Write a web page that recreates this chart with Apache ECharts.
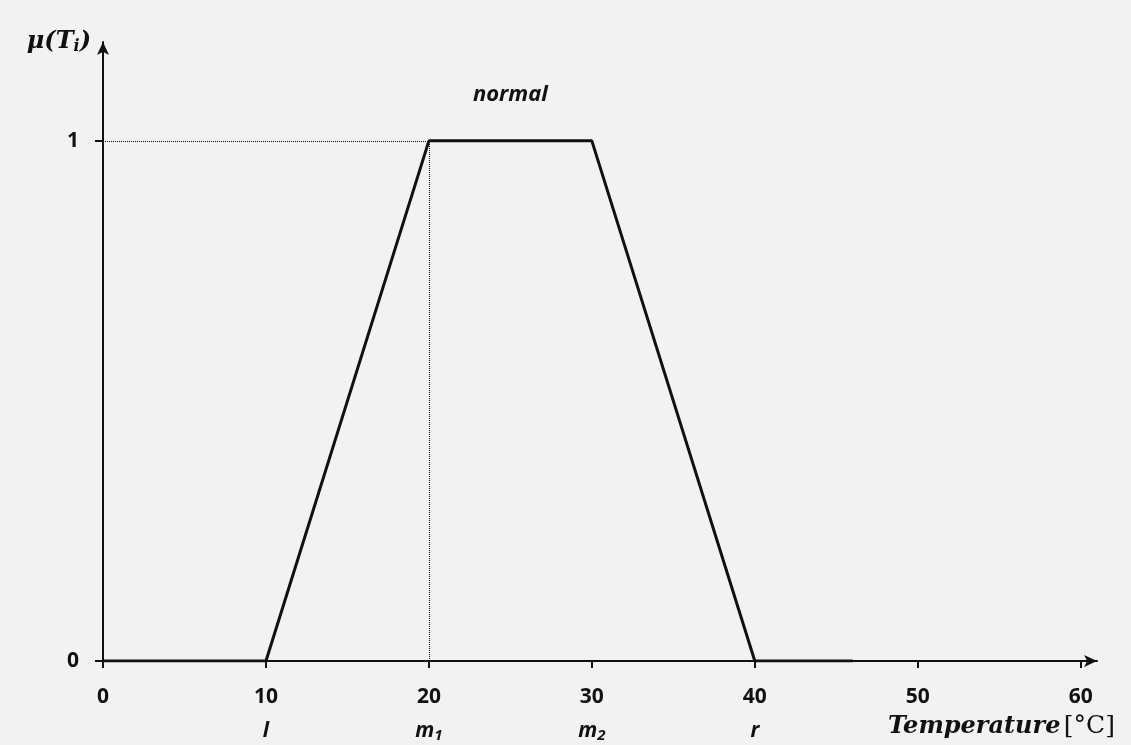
<!DOCTYPE html>
<html>
<head>
<meta charset="utf-8">
<script src="https://cdn.jsdelivr.net/npm/echarts@6/dist/echarts.min.js"></script>
<style>
html,body{margin:0;padding:0;background:#f2f2f2;}
#chart{width:1131px;height:745px;}
</style>
</head>
<body>
<div id="chart"></div>
<script>
// ---- data ----
var temperature = [0, 10, 20, 30, 40, 46];
var membership  = [0, 0, 1, 1, 0, 0];
var xTicks = [0, 10, 20, 30, 40, 50, 60];
var paramNames = ['', 'l', 'm1', 'm2', 'r', '', ''];
var yTicks = [0, 1];
var setName = 'normal';
var setLabelPos = [25, 1.088];
var peakStart = [20, 1];
var xAxisTitle = 'Temperature';
var xAxisUnit = '[°C]';

var chart = echarts.init(document.getElementById('chart'), null, {renderer: 'canvas'});
var dark = '#111111';
var labelFont = '"Open Sans", Lato, sans-serif';
var mathFont = '"DejaVu Serif", "Liberation Serif", serif';

function paramRich(name) {
  if (!name) return '';
  if (name.length > 1) return '{p|' + name.charAt(0) + '}{s|' + name.slice(1) + '}';
  return '{p|' + name + '}';
}

var series = [{
  type: 'line',
  data: temperature.map(function (t, i) { return [t, membership[i]]; }),
  symbol: 'none',
  lineStyle: {color: dark, width: 3},
  z: 5,
  markLine: {
    silent: true,
    symbol: 'none',
    label: {show: false},
    lineStyle: {type: 'dotted', color: dark, width: 1},
    data: [
      [{coord: [0, peakStart[1]]}, {coord: peakStart}],
      [{coord: [peakStart[0], 0]}, {coord: peakStart}]
    ]
  },
  markPoint: {
    silent: true,
    symbol: 'circle',
    symbolSize: 0,
    label: {
      show: true,
      formatter: setName,
      position: 'inside',
      fontFamily: labelFont,
      fontWeight: 'bold',
      fontStyle: 'italic',
      fontSize: 22,
      color: dark
    },
    data: [{coord: setLabelPos}]
  }
}];

var option = {
  backgroundColor: '#f2f2f2',
  animation: false,
  grid: {left: 103, right: 34, top: 42, bottom: 84, containLabel: false, outerBoundsMode: 'none'},
  graphic: [{
    type: 'text',
    left: 888,
    top: 714,
    silent: true,
    style: {
      text: '{t|' + xAxisTitle + '} {u|' + xAxisUnit + '}',
      rich: {
        t: {fontFamily: mathFont, fontWeight: 'bold', fontStyle: 'italic', fontSize: 24, fill: dark},
        u: {fontFamily: mathFont, fontSize: 25, fill: dark}
      }
    }
  }],
  xAxis: {
    type: 'value',
    min: 0,
    max: 61,
    splitLine: {show: false},
    axisLine: {
      show: true,
      onZero: false,
      symbol: ['none', 'arrow'],
      symbolSize: [9, 13],
      lineStyle: {color: dark, width: 2}
    },
    axisTick: {
      show: true,
      customValues: xTicks,
      inside: false,
      length: 7,
      lineStyle: {color: dark, width: 2}
    },
    axisLabel: {
      customValues: xTicks,
      margin: 19,
      lineHeight: 34,
      color: dark,
      fontFamily: labelFont,
      fontWeight: 'bold',
      fontSize: 21,
      formatter: function (v) {
        var i = xTicks.indexOf(v);
        var sub = i >= 0 ? paramRich(paramNames[i]) : '';
        return '{n|' + v + '}' + (sub ? '\n' + sub : '');
      },
      rich: {
        n: {fontFamily: labelFont, fontWeight: 'bold', fontSize: 21, color: dark, lineHeight: 34},
        p: {fontFamily: labelFont, fontWeight: 'bold', fontStyle: 'italic', fontSize: 21, color: dark, lineHeight: 34},
        s: {fontFamily: labelFont, fontWeight: 'bold', fontStyle: 'italic', fontSize: 15, color: dark, lineHeight: 34, padding: [10, 0, 0, 0]}
      }
    }
  },
  yAxis: {
    type: 'value',
    min: 0,
    max: 1.19,
    splitLine: {show: false},
    axisLine: {
      show: true,
      onZero: false,
      symbol: ['none', 'arrow'],
      symbolSize: [9, 13],
      lineStyle: {color: dark, width: 2}
    },
    axisTick: {
      show: true,
      customValues: yTicks,
      length: 8,
      lineStyle: {color: dark, width: 2}
    },
    axisLabel: {
      customValues: yTicks,
      margin: 24,
      color: dark,
      fontFamily: labelFont,
      fontWeight: 'bold',
      fontSize: 21
    },
    name: '{m|μ(T}{s|i}{m|)}',
    nameLocation: 'end',
    nameGap: 0,
    nameTextStyle: {
      align: 'right',
      verticalAlign: 'middle',
      padding: [0, 12, 0, 0],
      rich: {
        m: {fontFamily: mathFont, fontWeight: 'bold', fontStyle: 'italic', fontSize: 24, color: dark},
        s: {fontFamily: mathFont, fontWeight: 'bold', fontStyle: 'italic', fontSize: 16, color: dark, padding: [10, 0, 0, 0]}
      }
    }
  },
  series: series
};

chart.setOption(option);
</script>
</body>
</html>
